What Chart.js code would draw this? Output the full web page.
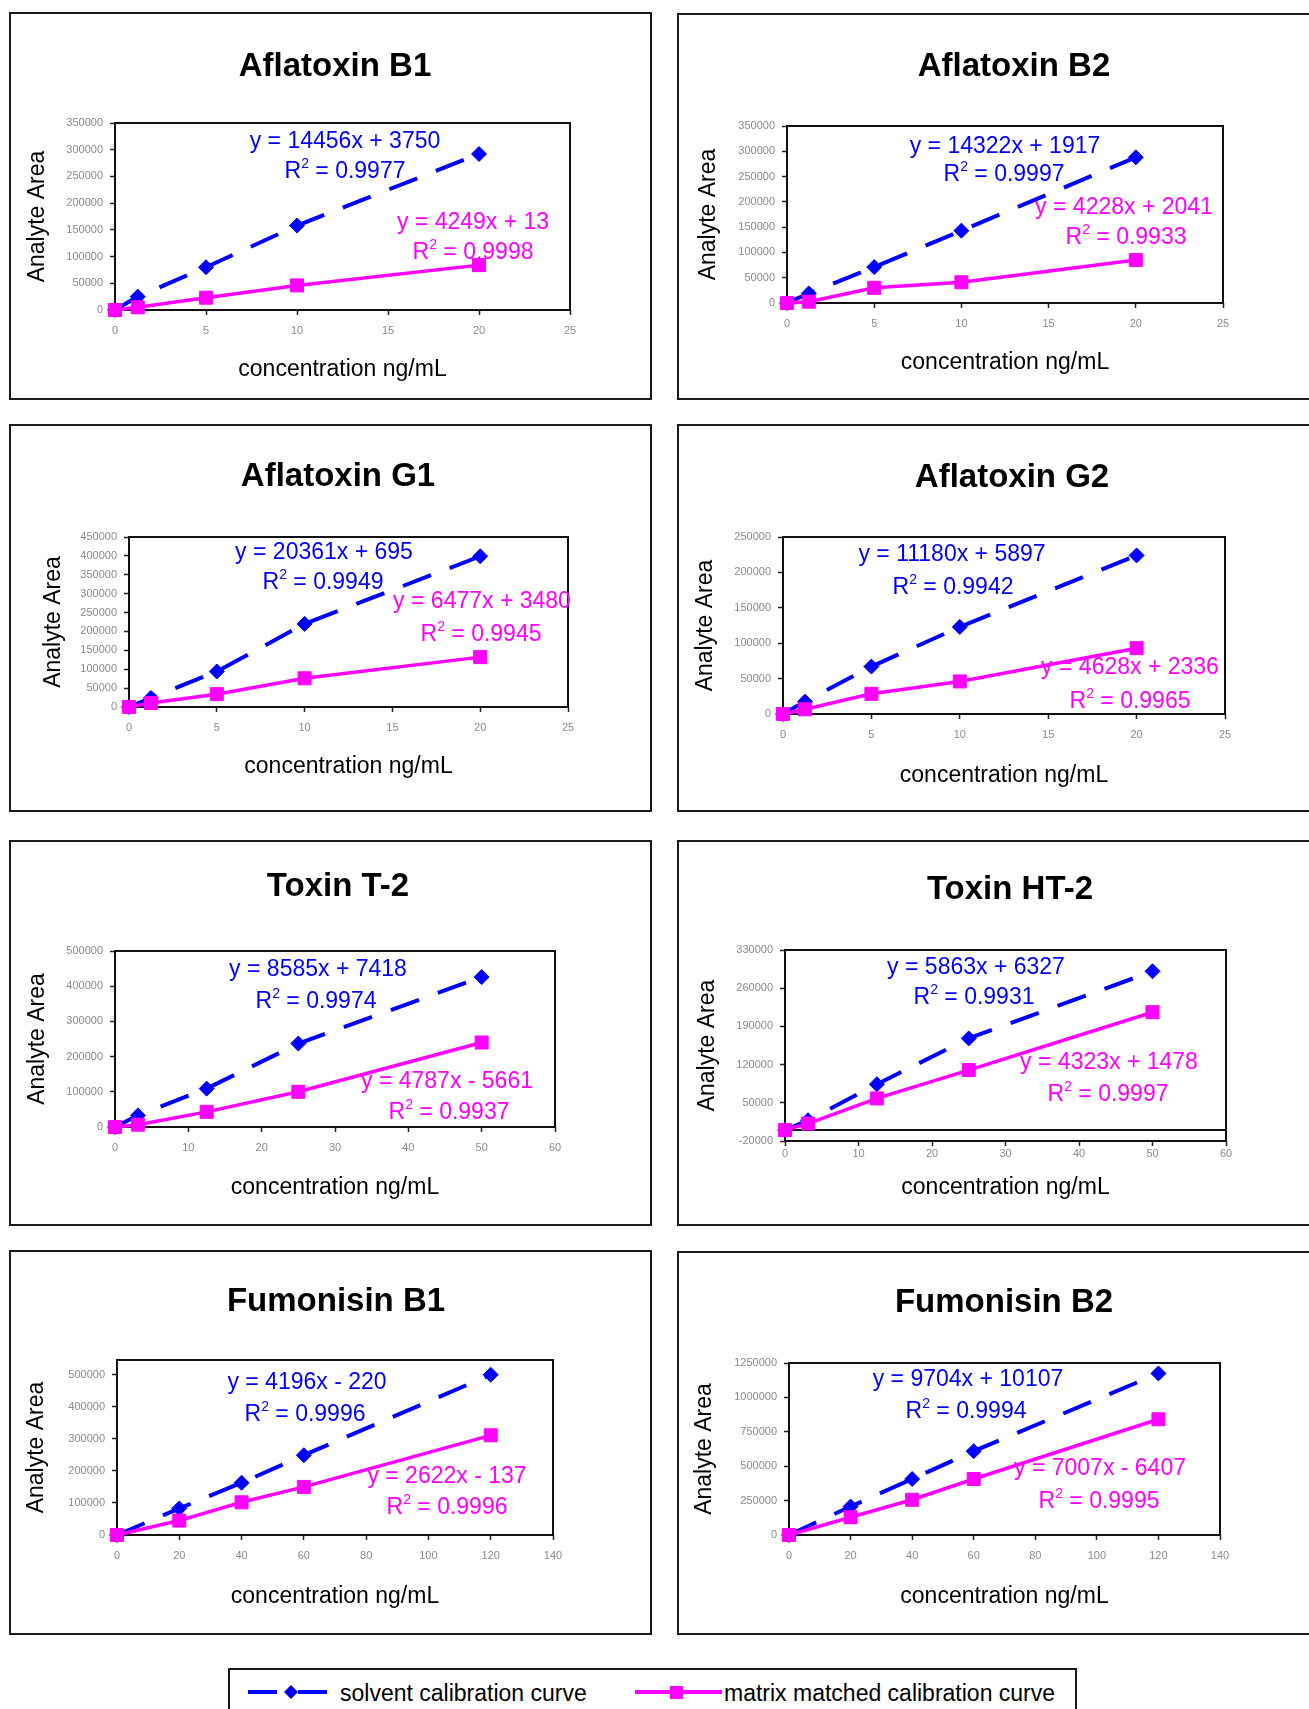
<!DOCTYPE html>
<html>
<head>
<meta charset="utf-8">
<script src="https://cdn.jsdelivr.net/npm/chart.js@4.4.1/dist/chart.umd.min.js"></script>
<style>
html,body{margin:0;padding:0;background:#fff;}
body{width:1309px;height:1709px;position:relative;overflow:hidden;font-family:"Liberation Sans",Arial,Helvetica,sans-serif;}
.panel{position:absolute;}
.panel canvas{position:absolute;left:0;top:0;}
.frame{position:absolute;left:0;top:0;right:0;bottom:0;border:2px solid #1a1a1a;box-sizing:border-box;pointer-events:none;}
#legend{position:absolute;left:228px;top:1668px;width:849px;height:70px;border:2px solid #1a1a1a;box-sizing:border-box;}
#legend svg{position:absolute;left:0;top:0;}
#legend span{position:absolute;top:9px;font-size:23px;line-height:28px;color:#000;white-space:nowrap;}
</style>
</head>
<body>
<div id="legend">
  <svg width="849" height="60">
    <line x1="18" y1="22" x2="47" y2="22" stroke="#0000ff" stroke-width="4"/>
    <polygon points="61,15 68,22 61,29 54,22" fill="#0000ff"/>
    <line x1="68" y1="22" x2="97" y2="22" stroke="#0000ff" stroke-width="4"/>
    <line x1="405" y1="22" x2="492" y2="22" stroke="#ff00ff" stroke-width="4"/>
    <rect x="440" y="16" width="13" height="13" fill="#ff00ff"/>
  </svg>
  <span id="legSolvent" style="left:110px;"></span>
  <span id="legMatrix" style="left:494px;"></span>
</div>
<script>
// ---------------- data ----------------
const panelTitles = ['Aflatoxin B1','Aflatoxin B2','Aflatoxin G1','Aflatoxin G2','Toxin T-2','Toxin HT-2','Fumonisin B1','Fumonisin B2'];
const seriesNames = ['solvent calibration curve','matrix matched calibration curve'];
const xAxisTitle = 'concentration ng/mL';
const yAxisTitle = 'Analyte Area';

const concAflatoxin = [0, 1.25, 5, 10, 20];
const concToxin     = [0, 3.125, 12.5, 25, 50];
const concFumonisin = [0, 20, 40, 60, 120];

const solventB1  = [0, 25000, 80000, 158000, 292000];
const matrixB1   = [0, 5000, 23000, 46000, 84000];
const solventB2  = [0, 19000, 71000, 143000, 288000];
const matrixB2   = [0, 2600, 30000, 41000, 85000];
const solventG1  = [0, 24000, 94000, 220000, 399000];
const matrixG1   = [0, 10500, 34000, 76000, 132000];
const solventG2  = [0, 17500, 67000, 123000, 224000];
const matrixG2   = [0, 6600, 28500, 46000, 93000];
const solventT2  = [0, 33000, 109000, 237000, 426000];
const matrixT2   = [0, 6600, 43000, 100000, 240000];
const solventHT2 = [0, 18000, 84000, 168000, 291000];
const matrixHT2  = [0, 12000, 58000, 110000, 216000];
const solventFB1 = [0, 83000, 163000, 249000, 500000];
const matrixFB1  = [0, 45000, 102000, 150000, 311000];
const solventFB2 = [0, 207000, 407000, 609000, 1174000];
const matrixFB2  = [0, 129000, 256000, 407000, 841000];

const solventEq = ['y = 14456x + 3750','y = 14322x + 1917','y = 20361x + 695','y = 11180x + 5897','y = 8585x + 7418','y = 5863x + 6327','y = 4196x - 220','y = 9704x + 10107'];
const solventR2 = ['0.9977','0.9997','0.9949','0.9942','0.9974','0.9931','0.9996','0.9994'];
const matrixEq  = ['y = 4249x + 13','y = 4228x + 2041','y = 6477x + 3480','y = 4628x + 2336','y = 4787x - 5661','y = 4323x + 1478','y = 2622x - 137','y = 7007x - 6407'];
const matrixR2  = ['0.9998','0.9933','0.9945','0.9965','0.9937','0.9997','0.9996','0.9995'];

const xTicksAfla = [0, 5, 10, 15, 20, 25];
const xTicksTox  = [0, 10, 20, 30, 40, 50, 60];
const xTicksFum  = [0, 20, 40, 60, 80, 100, 120, 140];
const yTicksB    = [0, 50000, 100000, 150000, 200000, 250000, 300000, 350000];
const yTicksG1   = [0, 50000, 100000, 150000, 200000, 250000, 300000, 350000, 400000, 450000];
const yTicksG2   = [0, 50000, 100000, 150000, 200000, 250000];
const yTicksT2   = [0, 100000, 200000, 300000, 400000, 500000];
const yTicksHT2  = [-20000, 50000, 120000, 190000, 260000, 330000];
const yTicksFB1  = [0, 100000, 200000, 300000, 400000, 500000];
const yTicksFB2  = [0, 250000, 500000, 750000, 1000000, 1250000];

const xMaxes = [25, 25, 25, 25, 60, 60, 140, 140];
const yMins  = [0, 0, 0, 0, 0, -20000, 0, 0];
const yMaxes = [350000, 350000, 450000, 250000, 500000, 330000, 546000, 1250000];

const concs    = [concAflatoxin, concAflatoxin, concAflatoxin, concAflatoxin, concToxin, concToxin, concFumonisin, concFumonisin];
const solvents = [solventB1, solventB2, solventG1, solventG2, solventT2, solventHT2, solventFB1, solventFB2];
const matrices = [matrixB1, matrixB2, matrixG1, matrixG2, matrixT2, matrixHT2, matrixFB1, matrixFB2];
const xTickSets = [xTicksAfla, xTicksAfla, xTicksAfla, xTicksAfla, xTicksTox, xTicksTox, xTicksFum, xTicksFum];
const yTickSets = [yTicksB, yTicksB, yTicksG1, yTicksG2, yTicksT2, yTicksHT2, yTicksFB1, yTicksFB2];

// ---------------- layout (page pixels) ----------------
const layout = [
  {box:[9,12,643,388],  plot:[115,123,570,310],   title:[335,67],   xTitleY:370,  yTitleX:38,  xPad:9, eq:[[345,142],[345,172],[473,223],[473,253]]},
  {box:[677,13,643,387],plot:[787,126,1223,303],  title:[1014,67],  xTitleY:363,  yTitleX:709, xPad:9, eq:[[1005,147],[1004,175],[1124,208],[1126,238]]},
  {box:[9,424,643,388], plot:[129,537,568,707],   title:[338,477],  xTitleY:767,  yTitleX:54,  xPad:9, eq:[[324,553],[323,583],[482,602],[481,635]]},
  {box:[677,424,643,388],plot:[783,537,1225,714], title:[1012,478], xTitleY:776,  yTitleX:706, xPad:9, eq:[[952,555],[953,588],[1130,668],[1130,702]]},
  {box:[9,840,643,386], plot:[115,951,555,1127],  title:[338,887],  xTitleY:1188, yTitleX:38,  xPad:9, eq:[[318,970],[316,1002],[447,1082],[449,1113]]},
  {box:[677,840,643,386],plot:[785,950,1226,1141],title:[1010,890], xTitleY:1188, yTitleX:708, xPad:1, eq:[[976,968],[974,998],[1109,1063],[1108,1095]], zeroLine:true},
  {box:[9,1250,643,385],plot:[117,1360,553,1535], title:[336,1302], xTitleY:1597, yTitleX:37,  xPad:9, eq:[[307,1383],[305,1415],[447,1477],[447,1508]]},
  {box:[677,1251,643,384],plot:[789,1363,1220,1535],title:[1004,1303],xTitleY:1597,yTitleX:705, xPad:9, eq:[[968,1380],[966,1412],[1100,1469],[1099,1502]]}
];

const BLUE = '#0000ff';
const MAGENTA = '#ff00ff';
const FONT = '"Liberation Sans", Arial, Helvetica, sans-serif';
Chart.defaults.font.family = FONT;

document.getElementById('legSolvent').textContent = seriesNames[0];
document.getElementById('legMatrix').textContent = seriesNames[1];

function makeDecor(i) {
  const L = layout[i];
  const ox = L.box[0], oy = L.box[1];
  function drawR2(ctx, cx, cy, val, color) {
    const big = '23px ' + FONT, small = '14px ' + FONT;
    ctx.font = big;
    const wR = ctx.measureText('R').width;
    const wRest = ctx.measureText(' = ' + val).width;
    ctx.font = small;
    const w2 = ctx.measureText('2').width;
    const total = wR + w2 + wRest;
    let x = cx - total / 2;
    ctx.fillStyle = color;
    ctx.textAlign = 'left';
    ctx.textBaseline = 'middle';
    ctx.font = big; ctx.fillText('R', x, cy); x += wR;
    ctx.font = small; ctx.fillText('2', x, cy - 8); x += w2;
    ctx.font = big; ctx.fillText(' = ' + val, x, cy);
  }
  return {
    id: 'decor' + i,
    beforeDatasetsDraw(chart) {
      const ctx = chart.ctx, a = chart.chartArea;
      ctx.save();
      ctx.strokeStyle = '#111';
      ctx.lineWidth = 2;
      if (L.zeroLine) {
        const y0 = chart.scales.y.getPixelForValue(0);
        ctx.beginPath(); ctx.moveTo(a.left, y0); ctx.lineTo(a.right, y0); ctx.stroke();
      }
      ctx.strokeRect(a.left, a.top, a.right - a.left, a.bottom - a.top);
      ctx.restore();
    },
    afterDraw(chart) {
      const ctx = chart.ctx;
      ctx.save();
      ctx.fillStyle = '#000';
      ctx.font = 'bold 33px ' + FONT;
      ctx.textAlign = 'center';
      ctx.textBaseline = 'middle';
      ctx.fillText(panelTitles[i], L.title[0] - ox, L.title[1] - oy);
      ctx.font = '23px ' + FONT;
      ctx.fillStyle = BLUE;
      ctx.fillText(solventEq[i], L.eq[0][0] - ox, L.eq[0][1] - oy);
      drawR2(ctx, L.eq[1][0] - ox, L.eq[1][1] - oy, solventR2[i], BLUE);
      ctx.font = '23px ' + FONT;
      ctx.textAlign = 'center';
      ctx.fillStyle = MAGENTA;
      ctx.fillText(matrixEq[i], L.eq[2][0] - ox, L.eq[2][1] - oy);
      drawR2(ctx, L.eq[3][0] - ox, L.eq[3][1] - oy, matrixR2[i], MAGENTA);
      ctx.restore();
    }
  };
}

function makeChart(i) {
  const L = layout[i];
  const [bx, by, bw, bh] = L.box;
  const [pl, pt, pr, pb] = L.plot;
  const wrap = document.createElement('div');
  wrap.className = 'panel';
  wrap.style.left = bx + 'px'; wrap.style.top = by + 'px';
  wrap.style.width = bw + 'px'; wrap.style.height = bh + 'px';
  const cv = document.createElement('canvas');
  cv.width = bw; cv.height = bh;
  cv.style.width = bw + 'px'; cv.style.height = bh + 'px';
  wrap.appendChild(cv);
  const fr = document.createElement('div'); fr.className = 'frame';
  wrap.appendChild(fr);
  document.body.appendChild(wrap);

  const xs = concs[i];
  const lh = 23 * 1.2;
  new Chart(cv, {
    type: 'scatter',
    data: {
      datasets: [
        {
          label: seriesNames[0],
          data: xs.map((x, k) => ({x: x, y: solvents[i][k]})),
          showLine: true, order: 2, clip: false,
          borderColor: BLUE, backgroundColor: BLUE, borderWidth: 4, borderDash: [30, 20],
          pointStyle: 'rectRot', pointRadius: 7.5, pointBorderWidth: 1,
          pointBorderColor: BLUE, pointBackgroundColor: BLUE, pointHoverRadius: 7.5
        },
        {
          label: seriesNames[1],
          data: xs.map((x, k) => ({x: x, y: matrices[i][k]})),
          showLine: true, order: 1, clip: false,
          borderColor: MAGENTA, backgroundColor: MAGENTA, borderWidth: 3.5,
          pointStyle: 'rect', pointRadius: 9.2, pointBorderWidth: 1,
          pointBorderColor: MAGENTA, pointBackgroundColor: MAGENTA, pointHoverRadius: 9.2
        }
      ]
    },
    options: {
      responsive: false, animation: false, devicePixelRatio: 1,
      events: [],
      layout: {padding: {left: 0, top: pt - by, right: (bx + bw) - pr, bottom: 0}},
      plugins: {legend: {display: false}, tooltip: {enabled: false}, title: {display: false}},
      scales: {
        x: {
          type: 'linear', min: 0, max: xMaxes[i],
          afterBuildTicks: s => { s.ticks = xTickSets[i].map(v => ({value: v})); },
          afterFit: s => { s.height = (by + bh) - pb; },
          grid: {display: true, drawOnChartArea: false, drawTicks: true, tickLength: 5, tickColor: '#222', tickWidth: 1.5},
          border: {display: false},
          ticks: {color: '#8a8a8a', font: {size: 11}, padding: L.xPad, maxRotation: 0, autoSkip: false, callback: v => String(v)},
          title: {display: true, text: xAxisTitle, color: '#000', font: {size: 23}, padding: {top: 0, bottom: (by + bh) - L.xTitleY - lh / 2}}
        },
        y: {
          type: 'linear', min: yMins[i], max: yMaxes[i],
          afterBuildTicks: s => { s.ticks = yTickSets[i].map(v => ({value: v})); },
          afterFit: s => { s.width = pl - bx; },
          grid: {display: true, drawOnChartArea: false, drawTicks: true, tickLength: 5, tickColor: '#222', tickWidth: 1.5},
          border: {display: false},
          ticks: {color: '#8a8a8a', font: {size: 11}, padding: 7, autoSkip: false, callback: v => String(v)},
          title: {display: true, text: yAxisTitle, color: '#000', font: {size: 23}, padding: {top: (L.yTitleX - bx) - lh / 2, bottom: 0}}
        }
      }
    },
    plugins: [makeDecor(i)]
  });
}

for (let i = 0; i < 8; i++) makeChart(i);
</script>
</body>
</html>
